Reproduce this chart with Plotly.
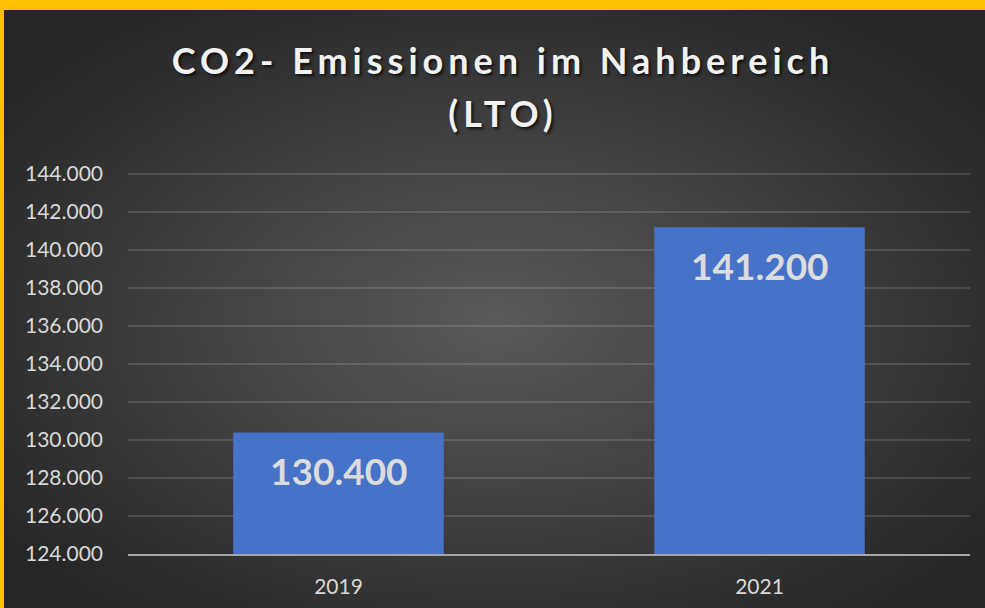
import plotly.graph_objects as go

# ---- data ----
categories = ["2019", "2021"]
values = [130400, 141200]
y_ticks = list(range(124000, 144001, 2000))

W, H = 985, 608
ML, MR, MT, MB = 128, 15, 173, 54
PW, PH = W - ML - MR, H - MT - MB


def de_fmt(v):
    return f"{v:,}".replace(",", ".")


# background: yellow frame + dark radial gradient (SVG data URI)
svg = (
    f"<svg xmlns='http://www.w3.org/2000/svg' width='{W}' height='{H}' viewBox='0 0 {W} {H}' preserveAspectRatio='none'>"
    "<defs><radialGradient id='g' cx='50%' cy='52%' r='62%'>"
    "<stop offset='0%' stop-color='%235a5a5a'/>"
    "<stop offset='100%' stop-color='%23262626'/>"
    "</radialGradient></defs>"
    f"<rect width='{W}' height='{H}' fill='%23FFC000'/>"
    f"<rect x='4' y='10' width='{W-4}' height='{H-10}' fill='url(%23g)'/>"
    "</svg>"
)
bg_src = "data:image/svg+xml;utf8," + svg.replace("<", "%3C").replace(">", "%3E").replace("'", "%27")

fig = go.Figure()
fig.add_trace(go.Bar(
    x=categories,
    y=values,
    marker=dict(color="#4673c8", line=dict(width=0)),
    width=0.5,
    hoverinfo="skip",
))

for i, v in enumerate(values):
    fig.add_annotation(
        x=i, y=v, xref="x", yref="y", text=f"<b>{de_fmt(v)}</b>", showarrow=False,
        yanchor="middle", yshift=-38,
        font=dict(family="Lato", size=37, color="#dcdcdc"),
    )

fig.add_layout_image(
    source=bg_src, xref="paper", yref="paper",
    x=-ML / PW, y=1 + MT / PH, sizex=W / PW, sizey=H / PH,
    xanchor="left", yanchor="top", sizing="stretch", layer="below",
)

fig.update_layout(
    width=W, height=H,
    margin=dict(l=ML, r=MR, t=MT, b=MB, autoexpand=False),
    paper_bgcolor="#2b2b2b",
    plot_bgcolor="rgba(0,0,0,0)",
    separators=",.",
    showlegend=False,
    title=dict(
        text="<b>CO2- Emissionen im Nahbereich<br>(LTO)</b>",
        xref="paper", xanchor="center",
        y=1 - 74 / H, yref="container", yanchor="top",
        font=dict(family="Lato", size=36, color="#f2f2f2",
                  shadow="2px 2px 3px rgba(0,0,0,0.7)"),
    ),
    font=dict(family="Lato", color="#d9d9d9", size=21),
    xaxis=dict(
        type="category", range=[-0.5, len(categories) - 0.5],
        showline=True, linecolor="#a6a6a6", linewidth=2,
        showgrid=False, ticks="", ticklabelstandoff=13,
        automargin=False,
        tickfont=dict(family="Lato", size=21, color="#d9d9d9"),
    ),
    yaxis=dict(
        range=[124000, 144060], tickvals=y_ticks, tickformat=",.0f",
        showgrid=True, gridcolor="rgba(255,255,255,0.13)", gridwidth=1.5,
        zeroline=False, showline=False, ticks="", ticklabelstandoff=24,
        automargin=False,
        tickfont=dict(family="Lato", size=21, color="#d9d9d9"),
    ),
)
fig.update_layout(title_x=(503 - ML) / PW)

post = """
document.body.style.margin='0';
document.querySelectorAll('.gtitle').forEach(function(e){
  e.style.letterSpacing='5px';
  var lines = e.querySelectorAll('tspan.line');
  lines.forEach(function(t, k){
    if (k > 0) {
      var dy = parseFloat(t.getAttribute('dy'));
      if (!isNaN(dy) && dy !== 0) { t.setAttribute('dy', (dy * 1.47 / 1.3) + 'em'); }
    }
  });
});
"""
fig.write_html("out.html", post_script=post, config={"displayModeBar": False})
